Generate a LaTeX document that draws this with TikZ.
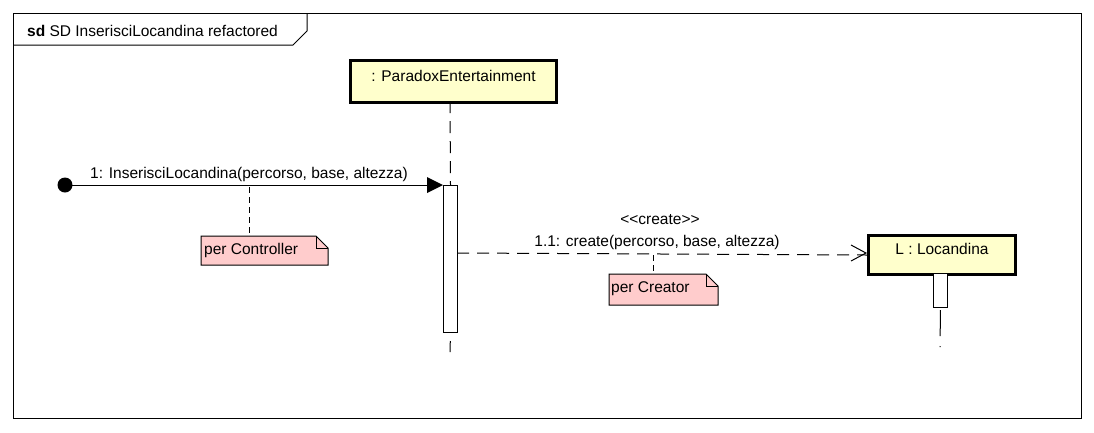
\documentclass[tikz,border=0pt]{standalone}
\usepackage{fontspec}
\setmainfont{Liberation Sans}
\usetikzlibrary{arrows.meta,shapes.geometric,calc}
\definecolor{lifey}{HTML}{FFFFCC}
\definecolor{notep}{HTML}{FFCCCC}
\begin{document}
\begin{tikzpicture}[x=1pt,y=-1pt,
  every node/.style={font=\fontsize{15.5}{17}\selectfont, inner sep=0pt},
  objbox/.style={draw, line width=3pt, fill=lifey, anchor=north west},
  actbar/.style={draw, line width=1pt, fill=white, anchor=north west, minimum width=14pt},
  lifel/.style={line width=1pt, dash pattern=on 12pt off 8pt},
  notel/.style={line width=1pt, dash pattern=on 6pt off 4pt},
  msgdash/.style={line width=1pt, dash pattern=on 12pt off 8pt}
]
\useasboundingbox (0,0) rectangle (1094,432);
% frame
\draw[line width=1pt] (13,13) rectangle (1081,418);
\draw[line width=1pt] (13,45) -- (293,45) -- (307,31) -- (307,13);
\node[anchor=west] (title) at (27,31) {\textbf{sd} SD InserisciLocandina refactored};

% ParadoxEntertainment
\node[objbox, minimum width=206pt, minimum height=42pt] (pe) at (349,59) {};
\node (pet) at ($(pe.north)+(0,17)$) {: ParadoxEntertainment};
\coordinate (peb) at (450,101);
\coordinate (pee) at (450,352);
% activation
\node[actbar, minimum height=147pt] (act1) at (443,185) {};
\draw[lifel] (peb) -- (act1.north);
\draw[line width=1pt, dash pattern=on 0pt off 8pt on 12pt] (act1.south) -- (pee);

% found message
\coordinate (start) at (65,185);
\fill (start) circle (7.5pt);
\coordinate (tipA) at (443,185);
\draw[line width=1pt] (start) -- (428,185);
\fill (tipA) -- (427,177) -- (427,193) -- cycle;
\node (m1) at (249,174) {1: InserisciLocandina(percorso, base, altezza)};

% note per Controller
\coordinate (n1top) at (249,187);
\fill[notep] (201,236) -- (316,236) -- (328,248) -- (328,265) -- (201,265) -- cycle;
\draw[line width=1pt] (201,236) -- (316,236) -- (328,248) -- (328,265) -- (201,265) -- cycle;
\draw[line width=1pt] (316,236) -- (316,248) -- (328,248);
\node[anchor=west] (note1) at (204,250) {per Controller};
\draw[notel] (n1top) -- (249,236);

% Locandina
\node[objbox, minimum width=147pt, minimum height=39pt] (loc) at (867,234) {};
\node (loct) at ($(loc.north)+(0,15)$) {L : Locandina};
\node[actbar, minimum height=34pt] (act2) at (933,273) {};
\coordinate (loce) at (940,347);
\draw[line width=1pt, dash pattern=on 0pt off 2pt on 26pt off 10pt on 1pt] (act2.south) -- (loce);

% create message
\draw[msgdash] (457,253) -- (loc.west);
\draw[line width=1pt] (851,245) -- (866,253) -- (851,261);
\node (st) at (660,220) {<{}<create>{}>};
\node (m2) at (657,242) {1.1: create(percorso, base, altezza)};

% note per Creator
\fill[notep] (609,274) -- (706,274) -- (718,286) -- (718,305) -- (609,305) -- cycle;
\draw[line width=1pt] (609,274) -- (706,274) -- (718,286) -- (718,305) -- (609,305) -- cycle;
\draw[line width=1pt] (706,274) -- (706,286) -- (718,286);
\node[anchor=west] (note2) at (611,289) {per Creator};
\draw[notel] (653,255) -- (653,274);
\end{tikzpicture}
\end{document}
